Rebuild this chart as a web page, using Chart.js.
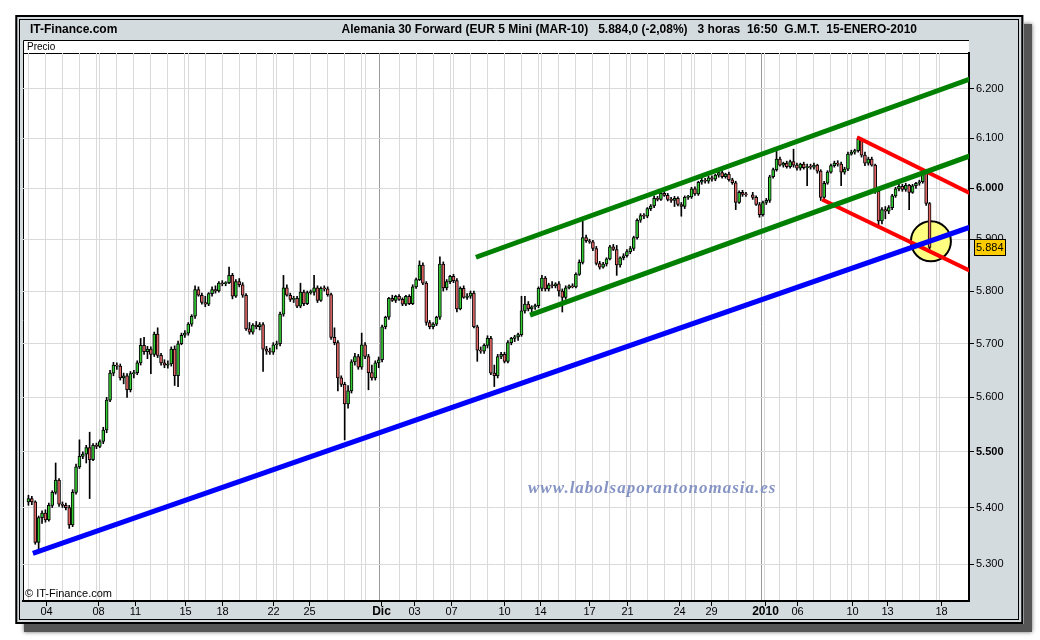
<!DOCTYPE html>
<html>
<head>
<meta charset="utf-8">
<script src="https://cdn.jsdelivr.net/npm/chart.js@4.4.1/dist/chart.umd.min.js"></script>
<style>
  html, body { margin: 0; padding: 0; background: #fff; }
  canvas { display: block; }
</style>
</head>
<body>
<canvas id="chart" width="1040" height="640"></canvas>
<script>
// 蜡烛数据 (3 小时K线, 2009-11-03 ~ 2010-01-15)
const openP = [
  5410,5416,5410,5338,5382,5390,5378,5404,5427,5449,
  5406,5404,5400,5369,5427,5473,5492,5496,5508,5486,
  5512,5510,5519,5540,5595,5645,5660,5658,5636,5640,
  5614,5644,5646,5664,5697,5685,5690,5680,5718,5678,
  5664,5660,5662,5690,5640,5700,5716,5720,5737,5752,
  5803,5792,5778,5775,5795,5803,5800,5815,5814,5816,
  5830,5790,5818,5812,5792,5728,5722,5735,5732,5736,
  5690,5686,5684,5698,5700,5756,5806,5792,5784,5786,
  5771,5798,5776,5797,5798,5806,5782,5805,5804,5793,
  5712,5702,5636,5624,5588,5612,5666,5676,5656,5698,
  5676,5646,5636,5664,5670,5732,5750,5786,5782,5790,
  5784,5775,5790,5776,5808,5822,5850,5815,5740,5732,
  5737,5750,5852,5806,5818,5828,5820,5766,5805,5788,
  5790,5796,5732,5688,5686,5697,5710,5645,5640,5676,
  5680,5667,5702,5710,5713,5717,5762,5775,5766,5770,
  5772,5805,5825,5804,5812,5810,5814,5800,5788,5806,
  5810,5808,5832,5855,5903,5897,5895,5882,5853,5846,
  5852,5862,5885,5880,5850,5864,5868,5876,5882,5903,
  5937,5946,5945,5960,5965,5980,5978,5990,5986,5978,
  5976,5980,5968,5964,5982,5983,5999,5989,6012,6016,
  6014,6021,6018,6026,6031,6023,6028,6017,6011,5972,
  5992,5988,null,5987,5982,5968,5948,5972,5976,6023,
  6037,6058,6046,6050,6043,6053,6046,6040,6048,6041,
  6043,6042,6046,6034,5982,6010,6032,6045,6050,6048,
  6032,6038,6068,6072,6075,6098,6066,6050,6058,6046,
  5994,5936,5958,5955,5962,5985,5999,6004,5998,6006,
  5992,6005,6010,6013,6030,5970
];
const highP = [
  5422,5420,5412,5385,5394,5396,5408,5430,5480,5452,
  5410,5408,5404,5432,5478,5522,5500,5512,5536,5515,
  5516,5522,5545,5600,5650,5665,5664,5662,5645,5644,
  5648,5650,5668,5710,5712,5695,5694,5722,5730,5682,
  5670,5668,5694,5696,5705,5720,5725,5740,5755,5810,
  5808,5796,5790,5797,5808,5810,5818,5820,5818,5846,
  5834,5822,5824,5816,5795,5740,5738,5742,5740,5740,
  5695,5692,5702,5705,5760,5830,5812,5796,5790,5790,
  5815,5802,5800,5802,5830,5810,5808,5810,5808,5796,
  5730,5706,5640,5628,5622,5670,5682,5680,5720,5702,
  5680,5660,5668,5675,5735,5752,5788,5792,5792,5793,
  5787,5792,5793,5812,5825,5858,5854,5818,5744,5740,
  5752,5866,5856,5822,5830,5832,5824,5808,5810,5795,
  5800,5800,5735,5694,5700,5715,5714,5660,5680,5684,
  5684,5706,5712,5716,5720,5790,5790,5780,5772,5775,
  5808,5830,5828,5815,5818,5816,5818,5804,5810,5812,
  5814,5835,5860,5935,5908,5900,5898,5886,5857,5855,
  5864,5888,5890,5888,5866,5872,5880,5886,5906,5940,
  5950,5950,5962,5968,5985,5984,5994,6000,5990,5982,
  5984,5983,5972,5985,5986,6002,6003,6014,6020,6020,
  6024,6025,6028,6035,6036,6030,6032,6020,6014,5995,
  5996,5992,null,5992,5985,5972,5975,5980,6026,6040,
  6078,6062,6052,6054,6056,6078,6050,6050,6052,6048,
  6048,6050,6048,6037,6014,6035,6048,6054,6055,6052,
  6042,6072,6076,6078,6103,6100,6072,6062,6062,6048,
  5996,5962,5964,5966,5988,6002,6008,6008,6010,6008,
  6008,6012,6016,6034,6032,5972
];
const lowP = [
  5404,5405,5335,5325,5372,5374,5376,5400,5424,5402,
  5400,5396,5363,5366,5424,5470,5488,5480,5416,5484,
  5506,5508,5515,5535,5592,5640,5652,5632,5625,5600,
  5610,5636,5642,5660,5680,5672,5644,5676,5674,5660,
  5655,5654,5658,5622,5620,5698,5712,5716,5733,5748,
  5790,5775,5770,5772,5790,5796,5798,5810,5810,5814,
  5785,5788,5808,5788,5725,5718,5718,5728,5726,5648,
  5680,5680,5680,5690,5696,5752,5790,5780,5778,5768,
  5768,5772,5774,5794,5792,5778,5780,5800,5790,5708,
  5698,5612,5620,5522,5580,5608,5660,5652,5652,5672,
  5614,5632,5632,5655,5666,5728,5746,5780,5778,5782,
  5772,5772,5774,5774,5805,5820,5812,5735,5728,5728,
  5734,5746,5800,5802,5814,5816,5760,5764,5786,5784,
  5786,5730,5667,5682,5682,5692,5642,5620,5636,5672,
  5664,5664,5698,5704,5706,5714,5758,5762,5760,5765,
  5768,5800,5800,5800,5806,5806,5790,5760,5784,5804,
  5806,5806,5830,5852,5894,5892,5878,5850,5842,5844,
  5848,5860,5878,5830,5846,5860,5865,5872,5878,5900,
  5933,5940,5942,5956,5962,5975,5976,5984,5975,5972,
  5964,5965,5945,5960,5978,5980,5986,5986,6008,6010,
  6010,6014,6015,6022,6020,6020,6014,6008,5958,5970,
  5984,5984,null,5978,5966,5943,5945,5968,5972,6020,
  6034,6044,6042,6040,6040,6042,6036,6036,6038,6005,
  6038,6038,6030,5976,5978,6008,6030,6042,6044,6005,
  6028,6035,6066,6068,6072,6062,6045,6046,6044,5990,
  5928,5930,5940,5950,5958,5982,5995,5994,5994,5958,
  5990,6000,6006,6010,5966,5878
];
const closeP = [
  5416,5410,5338,5382,5390,5378,5404,5427,5449,5406,
  5404,5400,5369,5427,5473,5492,5496,5508,5486,5512,
  5510,5519,5540,5595,5645,5660,5658,5636,5640,5614,
  5644,5646,5664,5697,5685,5690,5680,5718,5678,5664,
  5660,5662,5690,5640,5700,5716,5720,5737,5752,5803,
  5792,5778,5775,5795,5803,5800,5815,5814,5816,5830,
  5790,5818,5812,5792,5728,5722,5735,5732,5736,5690,
  5686,5684,5698,5700,5756,5806,5792,5784,5786,5771,
  5798,5776,5797,5798,5806,5782,5805,5804,5793,5712,
  5702,5636,5624,5588,5612,5666,5676,5656,5698,5676,
  5646,5636,5664,5670,5732,5750,5786,5782,5790,5784,
  5775,5790,5776,5808,5822,5850,5815,5740,5732,5737,
  5750,5852,5806,5818,5828,5820,5766,5805,5788,5790,
  5796,5732,5688,5686,5697,5710,5645,5640,5676,5680,
  5667,5702,5710,5713,5717,5762,5775,5766,5770,5772,
  5805,5825,5804,5812,5810,5814,5800,5788,5806,5810,
  5808,5832,5855,5903,5897,5895,5882,5853,5846,5852,
  5862,5885,5880,5850,5864,5868,5876,5882,5903,5937,
  5946,5945,5960,5965,5980,5978,5990,5986,5978,5976,
  5980,5968,5964,5982,5983,5999,5989,6012,6016,6014,
  6021,6018,6026,6031,6023,6028,6017,6011,5972,5992,
  5988,5987,null,5982,5968,5948,5972,5976,6023,6037,
  6058,6046,6050,6043,6053,6046,6040,6048,6041,6043,
  6042,6046,6034,5982,6010,6032,6045,6050,6048,6032,
  6038,6068,6072,6075,6098,6066,6050,6058,6046,5994,
  5936,5958,5955,5962,5985,5999,6004,5998,6006,5992,
  6005,6010,6013,6030,5970,5884
];

// 趋势线 (K线序号, 价格)
const supportX = [1.3, 277.5];
const supportY = [5319, 5925];
const channelTopX = [131.6, 277.5];
const channelTopY = [5865, 6222];
const channelLowX = [147.5, 277.5];
const channelLowY = [5754, 6066];
const downTopX = [243.7, 277.5];
const downTopY = [6102, 5988];
const downLowX = [233.4, 277.5];
const downLowY = [5978, 5837];
const markX = [265.4];
const markY = [5896];

// 坐标轴刻度
const yTicks = [5300, 5400, 5500, 5600, 5700, 5800, 5900, 6000, 6100, 6200];
const boldYTicks = [5500, 6000];
const dayTicks = [0, 5, 10, 15, 20, 21, 26, 31, 36, 41, 46, 47, 52, 57, 62, 67, 72, 73, 78, 83,
  88, 93, 98, 99, 103.3, 109, 114, 119, 124, 125, 130, 135, 140, 145, 150, 151, 156, 161, 166, 171,
  176, 177, 182, 187, 192, 195, 196, 201, 206, 211, 215.5, 216.5, 221, 226, 231, 236, 241, 242,
  247, 252, 257, 262, 267, 268];
const monthTicks = [103.3, 215.5];
const xLabels = ['04', '08', '11', '15', '18', '22', '25', 'Dic', '03', '07', '10', '14', '17', '21', '24', '29', '2010', '06', '10', '13', '18'];
const xLabelPos = [5.1, 20.4, 31.3, 46, 56.9, 71.9, 82.5, 103.7, 113.4, 124.3, 139.9, 150.4, 164.9, 176, 191.3, 200.7, 216.6, 226, 242.2, 252.5, 268.4];
const boldXLabels = ['Dic', '2010'];
const lastPrice = 5884;

const FONT = '"Liberation Sans", Arial, sans-serif';

// 构建数据
function buildCandles() {
    const wicks = [];
    const bodies = [];
    for (let i = 0; i < closeP.length; i++) {
        if (closeP[i] === null) continue;
        wicks.push({ x: i, y: [lowP[i], highP[i]] });
        bodies.push({ x: i, y: [openP[i], closeP[i]], up: closeP[i] >= openP[i] });
    }
    return { wicks, bodies };
}

function line(xs, ys) {
    return xs.map((x, k) => ({ x: x, y: ys[k] }));
}

// 背景和边框
const framePlugin = {
    id: 'frame',
    beforeDraw(chart) {
        const ctx = chart.ctx;
        const a = chart.chartArea;
        ctx.save();
        ctx.fillStyle = '#fff';
        ctx.fillRect(0, 0, 1040, 640);

        // 阴影
        ctx.shadowColor = 'rgba(0,0,0,0.6)';
        ctx.shadowBlur = 4;
        ctx.fillStyle = '#555555';
        ctx.fillRect(24, 24, 1008, 608);
        ctx.shadowBlur = 0;
        ctx.shadowColor = 'transparent';

        ctx.fillStyle = '#d4dbdf';
        ctx.fillRect(15, 15, 1009, 609);
        ctx.strokeStyle = '#000';
        ctx.lineWidth = 2;
        ctx.strokeRect(16.3, 16, 1006, 607);
        ctx.lineWidth = 1;
        ctx.strokeRect(19.5, 19.5, 999, 600);

        // 标题
        ctx.fillStyle = '#000';
        ctx.textBaseline = 'alphabetic';
        ctx.font = 'bold 12px ' + FONT;
        ctx.textAlign = 'left';
        ctx.fillText('IT-Finance.com', 30, 33);
        ctx.textAlign = 'right';
        ctx.fillText('Alemania 30 Forward (EUR 5 Mini (MAR-10)   5.884,0 (-2,08%)   3 horas  16:50  G.M.T.  15-ENERO-2010', 917, 33);

        // Precio 栏
        ctx.fillStyle = '#fff';
        ctx.fillRect(a.left, 40, a.right - a.left, a.bottom - 40);
        ctx.strokeStyle = '#000';
        ctx.beginPath();
        ctx.moveTo(a.left + 0.5, a.bottom);
        ctx.lineTo(a.left + 0.5, 40.5);
        ctx.lineTo(a.right, 40.5);
        ctx.moveTo(a.left, a.top + 0.5);
        ctx.lineTo(a.right, a.top + 0.5);
        ctx.stroke();
        ctx.fillStyle = '#000';
        ctx.font = '10px ' + FONT;
        ctx.textAlign = 'left';
        ctx.fillText('Precio', 27, 50);
        ctx.restore();
    },
    beforeDatasetsDraw(chart) {
        const ctx = chart.ctx;
        ctx.save();
        ctx.fillStyle = '#8594c4';
        ctx.font = 'italic bold 17px "Liberation Serif", serif';
        ctx.letterSpacing = '1px';
        ctx.textAlign = 'left';
        ctx.fillText('www.labolsaporantonomasia.es', 528, 493);
        ctx.restore();
    },
    afterDraw(chart) {
        const ctx = chart.ctx;
        const a = chart.chartArea;
        const xs = chart.scales.x;
        const ys = chart.scales.y;
        ctx.save();

        // X 轴标签
        ctx.strokeStyle = '#000';
        ctx.lineWidth = 1;
        ctx.fillStyle = '#000';
        ctx.textAlign = 'center';
        ctx.textBaseline = 'middle';
        xLabels.forEach((lab, k) => {
            const px = Math.round(xs.getPixelForValue(xLabelPos[k])) + 0.5;
            ctx.beginPath();
            ctx.moveTo(px, a.bottom);
            ctx.lineTo(px, a.bottom + 5);
            ctx.stroke();
            ctx.font = (boldXLabels.includes(lab) ? 'bold 12px ' : '11px ') + FONT;
            ctx.fillText(lab, px, 612);
        });

        ctx.textAlign = 'left';
        ctx.textBaseline = 'alphabetic';
        ctx.font = '11px ' + FONT;
        ctx.fillText('\u00a9 IT-Finance.com', 25, 597);

        // 最新价格
        const py = Math.round(ys.getPixelForValue(lastPrice));
        ctx.fillStyle = '#ffcc00';
        ctx.fillRect(974, py - 8, 31, 16);
        ctx.strokeRect(974.5, py - 7.5, 31, 16);
        ctx.fillStyle = '#000';
        ctx.textBaseline = 'middle';
        ctx.fillText((lastPrice / 1000).toFixed(3), 976, py + 0.5);
        ctx.restore();
    }
};

// 渲染图表
function renderChart() {
    const c = buildCandles();
    const ctx = document.getElementById('chart').getContext('2d');
    new Chart(ctx, {
        type: 'bar',
        data: {
            datasets: [
                {
                    type: 'line', data: line(supportX, supportY), borderColor: '#0000ff',
                    borderWidth: 5, pointRadius: 0, order: 1
                },
                {
                    type: 'line', data: line(channelTopX, channelTopY), borderColor: '#008000',
                    borderWidth: 5, pointRadius: 0, order: 1
                },
                {
                    type: 'line', data: line(channelLowX, channelLowY), borderColor: '#008000',
                    borderWidth: 5, pointRadius: 0, order: 1
                },
                {
                    type: 'line', data: line(downTopX, downTopY), borderColor: '#ff0000',
                    borderWidth: 4, pointRadius: 0, order: 1
                },
                {
                    type: 'line', data: line(downLowX, downLowY), borderColor: '#ff0000',
                    borderWidth: 4, pointRadius: 0, order: 1
                },
                {
                    type: 'bar', data: c.bodies, grouped: false, barThickness: 3, minBarLength: 1,
                    backgroundColor: (cx) => (cx.raw && cx.raw.up) ? '#33cc33' : '#e36666',
                    borderColor: '#000', borderWidth: 1, borderSkipped: false, order: 2
                },
                {
                    type: 'bar', data: c.wicks, grouped: false, barThickness: 1,
                    backgroundColor: '#000', borderWidth: 0, order: 3
                },
                {
                    type: 'scatter', data: line(markX, markY), pointRadius: 20,
                    pointBackgroundColor: '#ffff80', pointBorderColor: '#000', pointBorderWidth: 2, order: 4
                }
            ]
        },
        options: {
            responsive: false,
            devicePixelRatio: 1,
            animation: false,
            events: [],
            layout: { padding: { left: 23, top: 53, right: 18, bottom: 39 } },
            scales: {
                x: {
                    type: 'linear',
                    min: -1.6,
                    max: 276.6,
                    bounds: 'data',
                    offset: false,
                    afterBuildTicks: (s) => { s.ticks = dayTicks.map(v => ({ value: v })); },
                    afterFit: (s) => { s.height = 0; },
                    ticks: { display: false },
                    grid: {
                        offset: false,
                        drawTicks: false,
                        color: (cx) => (cx.tick && monthTicks.includes(cx.tick.value)) ? '#9a9a9a' : '#dadada'
                    },
                    border: { display: true, color: '#000', width: 2 }
                },
                y: {
                    type: 'logarithmic',
                    position: 'right',
                    min: 5236,
                    max: 6274,
                    bounds: 'data',
                    afterBuildTicks: (s) => { s.ticks = yTicks.map(v => ({ value: v })); },
                    afterFit: (s) => { s.width = 53; },
                    ticks: {
                        color: '#000',
                        padding: 2,
                        font: (cx) => ({
                            family: FONT, size: 11,
                            weight: (cx.tick && boldYTicks.includes(cx.tick.value)) ? 'bold' : 'normal'
                        }),
                        callback: (v) => (v / 1000).toFixed(3)
                    },
                    grid: { color: '#dadada', tickColor: '#000', tickLength: 5 },
                    border: { display: true, color: '#000', width: 2 }
                }
            },
            plugins: {
                legend: { display: false },
                tooltip: { enabled: false }
            }
        },
        plugins: [framePlugin]
    });
}

renderChart();
</script>
</body>
</html>
